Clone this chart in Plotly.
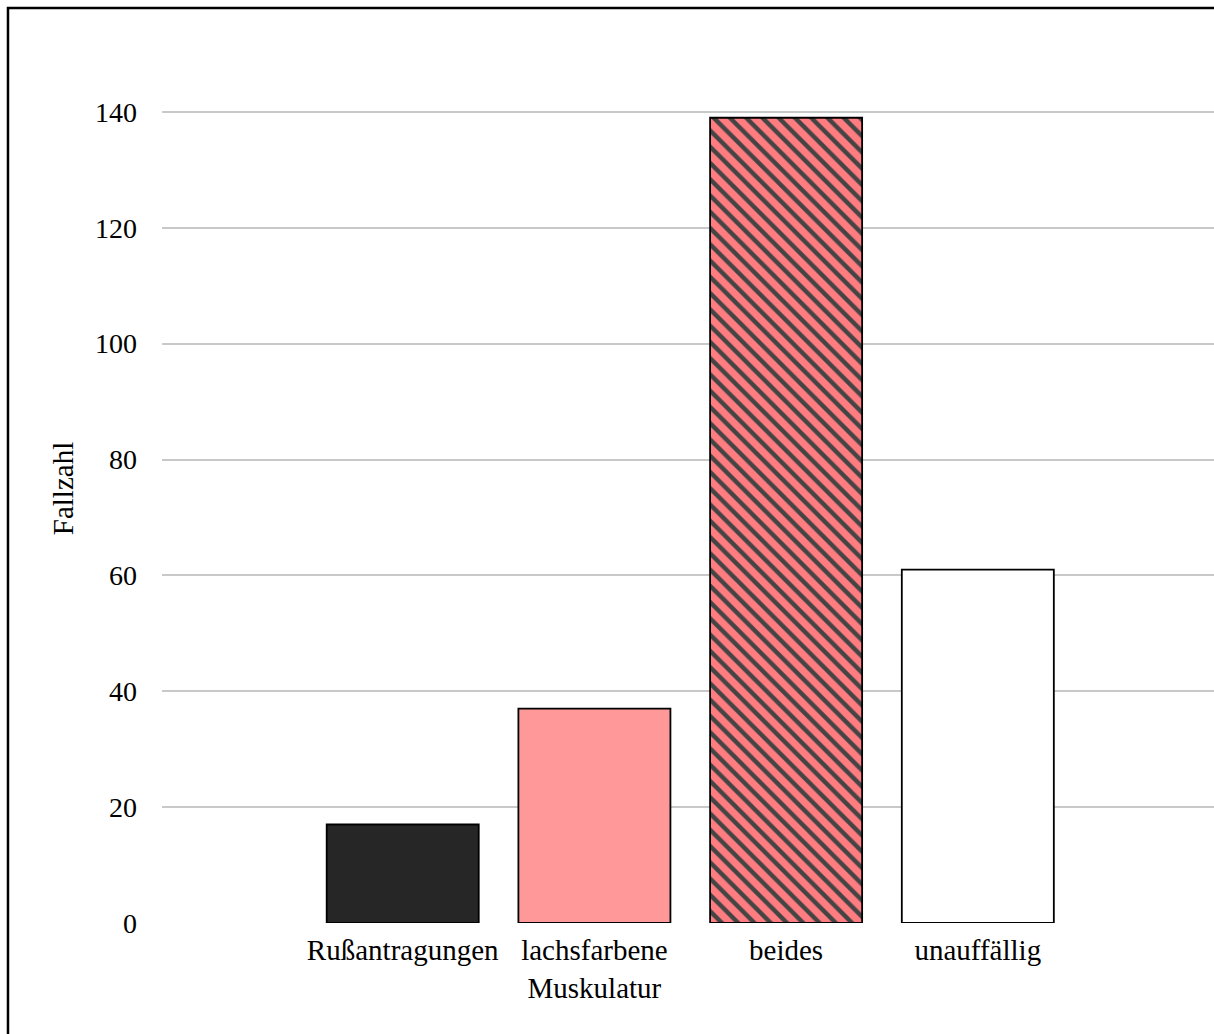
import plotly.graph_objects as go

# Befunde und Fallzahlen
categories = ["Rußantragungen", "lachsfarbene<br>Muskulatur", "beides", "unauffällig"]
counts = [17, 37, 139, 61]
y_ticks = [0, 20, 40, 60, 80, 100, 120, 140]

bar_colors = ["#262626", "#FF9999", "#FF7C80", "#FFFFFF"]
bar_patterns = ["", "", "\\", ""]

positions = list(range(len(categories)))

font_family = "Liberation Serif, Times New Roman, serif"

fig = go.Figure()
fig.add_trace(go.Bar(
    x=positions,
    y=counts,
    width=0.793,
    marker=dict(
        color=bar_colors,
        line=dict(color="#000000", width=1.8),
        pattern=dict(shape=bar_patterns, fgcolor="#1E1E1E", fgopacity=1,
                     size=11.5, solidity=0.38),
    ),
    showlegend=False,
    hoverinfo="x+y",
))

fig.update_layout(
    width=1214,
    height=1034,
    margin=dict(l=162, r=0, t=54, b=111, autoexpand=False),
    paper_bgcolor="white",
    plot_bgcolor="white",
    font=dict(family=font_family, size=29, color="#000000"),
    bargap=0.2,
)

fig.update_xaxes(
    range=[-1.2556, 4.232],
    tickmode="array",
    tickvals=positions,
    ticktext=categories,
    showgrid=False,
    zeroline=False,
    showline=False,
    ticks="",
    ticklabelstandoff=7,
    tickfont=dict(family=font_family, size=29, color="#000000"),
)

fig.update_yaxes(
    range=[0, 150],
    tickmode="array",
    tickvals=y_ticks,
    showgrid=True,
    gridcolor="#C8C8C8",
    gridwidth=1.6,
    zeroline=False,
    showline=False,
    ticks="",
    ticklabelstandoff=24,
    tickfont=dict(family=font_family, size=28, color="#000000"),
    title=dict(text="Fallzahl", standoff=12,
               font=dict(family=font_family, size=29, color="#000000")),
)

# Rahmen um das Diagramm
fig.add_shape(
    type="rect", xref="paper", yref="paper",
    x0=-0.1464, x1=1.2, y0=-0.3, y1=1.053,
    line=dict(color="#000000", width=2.5),
    fillcolor="rgba(0,0,0,0)",
    layer="above",
)

fig.write_html("out.html")
